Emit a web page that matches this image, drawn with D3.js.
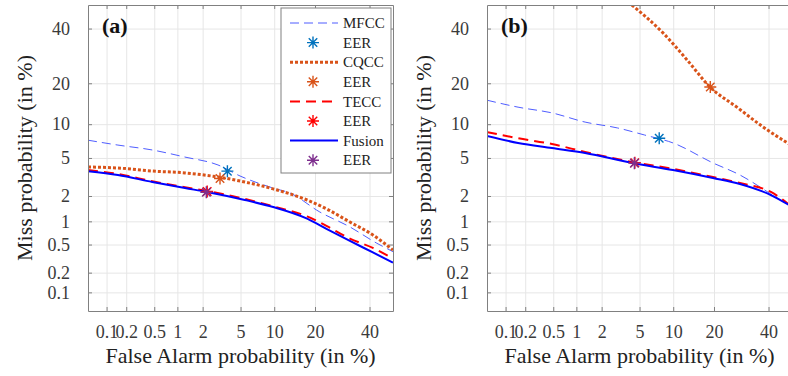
<!DOCTYPE html>
<html>
<head>
<meta charset="utf-8">
<script src="https://cdn.jsdelivr.net/npm/d3@7"></script>
<style>
  body { margin: 0; background: #fff; overflow: hidden; }
  svg text { font-family: "Liberation Serif", "Tinos", "DejaVu Serif", "Times New Roman", Times, serif; }
</style>
</head>
<body>
<script>
// 刻度 (in %)
var tickValues = [0.1, 0.2, 0.5, 1, 2, 5, 10, 20, 40];
var tickLabels = ['0.1', '0.2', '0.5', '1', '2', '5', '10', '20', '40'];
// 坐标轴范围 (in %)
var axisLimits = [0.05, 50];

// 面板 (a)
var aMfccFa = [0.05, 0.15, 0.47, 1.24, 2.95, 4.94, 9.8, 13.3, 21.5, 32.1, 43.1, 50];
var aMfccMiss = [7.3, 6.6, 5.95, 5.1, 4.27, 3.3, 2.45, 2.16, 1.3, 0.85, 0.52, 0.40];
var aCqccFa = [0.05, 0.15, 0.47, 1.24, 2.95, 5.5, 9.8, 17.7, 23.8, 32.1, 41.4, 50];
var aCqccMiss = [4.08, 3.98, 3.71, 3.55, 3.22, 2.85, 2.4, 1.8, 1.41, 0.98, 0.67, 0.42];
var aTeccFa = [0.05, 0.15, 0.47, 1.24, 2.24, 5.5, 9.8, 17.7, 23.8, 32.1, 41.4, 50];
var aTeccMiss = [3.8, 3.46, 2.9, 2.5, 2.28, 1.85, 1.52, 1.15, 0.87, 0.6, 0.45, 0.32];
var aFusionFa = [0.05, 0.15, 0.47, 1.24, 2.24, 5.5, 9.8, 17.7, 23.8, 32.1, 41.4, 50];
var aFusionMiss = [3.7, 3.38, 2.85, 2.45, 2.22, 1.8, 1.49, 1.08, 0.8, 0.56, 0.39, 0.28];
// EER: MFCC, CQCC, TECC, Fusion
var aEer = [3.7, 3.1, 2.25, 2.2];

// 面板 (b)
var bMfccFa = [0.05, 0.156, 0.48, 1.28, 3.0, 5.6, 9.96, 19.7, 28.7, 37.7, 41, 50];
var bMfccMiss = [15.3, 13.6, 12.3, 10.4, 9.3, 8.1, 6.9, 4.47, 3.38, 2.4, 2.1, 1.5];
var bCqccFa = [4.2, 8.2, 12.9, 18.8, 27.6, 37.7, 50];
var bCqccMiss = [50, 38.2, 27.7, 18.9, 13.6, 9.5, 6.5];
var bTeccFa = [0.05, 0.156, 0.48, 1.28, 4.2, 9.96, 19.7, 28.7, 41, 50];
var bTeccMiss = [8.6, 7.6, 6.75, 5.7, 4.57, 3.9, 3.22, 2.78, 2.22, 1.5];
var bFusionFa = [0.05, 0.156, 0.48, 1.28, 4.2, 9.96, 19.7, 28.7, 41, 50];
var bFusionMiss = [7.95, 6.9, 6.2, 5.58, 4.47, 3.8, 3.14, 2.71, 2.05, 1.5];
var bEer = [7.6, 18.9, 4.5, 4.45];

var seriesNames = ['MFCC', 'CQCC', 'TECC', 'Fusion'];

// 样式
var styles = [
  { color: '#4f5dff', width: 1, dash: '9,5', eer: '#0072BD' },
  { color: '#D95319', width: 3, dash: '3,2', eer: '#D95319' },
  { color: '#ff0000', width: 2, dash: '10,6', eer: '#ff0000' },
  { color: '#0000ff', width: 2, dash: null, eer: '#7E2F8E' }
];

var serif = '"Liberation Serif", "Tinos", "DejaVu Serif", "Times New Roman", Times, serif';
var svgWidth = 788, svgHeight = 376;
var plotW = 305, plotH = 306, plotTop = 5;

// 正态分布逆函数 (Acklam)
function probit(p) {
  var a = [-3.969683028665376e+01, 2.209460984245205e+02, -2.759285104469687e+02, 1.383577518672690e+02, -3.066479806614716e+01, 2.506628277459239e+00];
  var b = [-5.447609879822406e+01, 1.615858368580409e+02, -1.556989798598866e+02, 6.680131188771972e+01, -1.328068155288572e+01];
  var c = [-7.784894002430293e-03, -3.223964580411365e-01, -2.400758277161838e+00, -2.549732539343734e+00, 4.374664141464968e+00, 2.938163982698783e+00];
  var d = [7.784695709041462e-03, 3.224671290700398e-01, 2.445134137142996e+00, 3.754408367214310e+00];
  var pl = 0.02425, q, r;
  if (p < pl) {
    q = Math.sqrt(-2 * Math.log(p));
    return (((((c[0] * q + c[1]) * q + c[2]) * q + c[3]) * q + c[4]) * q + c[5]) / ((((d[0] * q + d[1]) * q + d[2]) * q + d[3]) * q + 1);
  }
  if (p <= 1 - pl) {
    q = p - 0.5; r = q * q;
    return (((((a[0] * r + a[1]) * r + a[2]) * r + a[3]) * r + a[4]) * r + a[5]) * q / (((((b[0] * r + b[1]) * r + b[2]) * r + b[3]) * r + b[4]) * r + 1);
  }
  q = Math.sqrt(-2 * Math.log(1 - p));
  return -(((((c[0] * q + c[1]) * q + c[2]) * q + c[3]) * q + c[4]) * q + c[5]) / ((((d[0] * q + d[1]) * q + d[2]) * q + d[3]) * q + 1);
}
function pz(v) { return probit(v / 100); }

// 星号 marker
function asterisk(r) {
  var p = d3.path();
  var k = r * Math.SQRT1_2;
  p.moveTo(-r, 0); p.lineTo(r, 0);
  p.moveTo(0, -r); p.lineTo(0, r);
  p.moveTo(-k, -k); p.lineTo(k, k);
  p.moveTo(-k, k); p.lineTo(k, -k);
  return p.toString();
}

var svg = d3.select('body').append('svg')
  .attr('width', svgWidth)
  .attr('height', svgHeight)
  .attr('font-family', serif);

function drawPanel(opt) {
  var x = d3.scaleLinear().domain(axisLimits.map(pz)).range([0, plotW]);
  var y = d3.scaleLinear().domain(axisLimits.map(pz)).range([plotH, 0]);
  var tv = tickValues.map(pz);
  var fmt = function (d, i) { return tickLabels[i]; };

  var g = svg.append('g').attr('transform', `translate(${opt.left},${plotTop})`);

  // 网格
  g.append('g')
    .attr('transform', `translate(0,${plotH})`)
    .call(d3.axisBottom(x).tickValues(tv).tickSize(-plotH).tickFormat(''))
    .call(s => s.select('.domain').remove())
    .call(s => s.selectAll('line').attr('stroke', '#e6e6e6'));
  g.append('g')
    .call(d3.axisLeft(y).tickValues(tv).tickSize(-plotW).tickFormat(''))
    .call(s => s.select('.domain').remove())
    .call(s => s.selectAll('line').attr('stroke', '#e6e6e6'));

  // 曲线
  var clipId = 'clip-' + opt.label;
  g.append('clipPath').attr('id', clipId)
    .append('rect').attr('width', plotW).attr('height', plotH);
  var line = d3.line()
    .curve(d3.curveMonotoneX)
    .x(d => x(pz(d[0])))
    .y(d => y(pz(d[1])));
  var lines = g.append('g').attr('clip-path', `url(#${clipId})`);
  opt.series.forEach(function (s, i) {
    var st = styles[i];
    lines.append('path')
      .datum(d3.zip(s[0], s[1]))
      .attr('fill', 'none')
      .attr('stroke', st.color)
      .attr('stroke-width', st.width)
      .attr('stroke-dasharray', st.dash)
      .attr('d', line);
  });
  // EER 点
  opt.eer.forEach(function (e, i) {
    lines.append('path')
      .attr('transform', `translate(${x(pz(e))},${y(pz(e))})`)
      .attr('d', asterisk(6))
      .attr('fill', 'none')
      .attr('stroke', styles[i].eer)
      .attr('stroke-width', 1.4);
  });

  // 坐标轴
  var axisColor = '#808080';
  function styleAxis(s) {
    s.attr('font-family', serif).attr('font-size', 18);
    s.select('.domain').attr('stroke', axisColor);
    s.selectAll('.tick line').attr('stroke', axisColor);
    s.selectAll('.tick text').attr('fill', '#3a3a3a');
  }
  g.append('g')
    .attr('transform', `translate(0,${plotH})`)
    .call(d3.axisBottom(x).tickValues(tv).tickFormat(fmt).tickSizeInner(-4).tickSizeOuter(0).tickPadding(14))
    .call(styleAxis);
  g.append('g')
    .call(d3.axisLeft(y).tickValues(tv).tickFormat(fmt).tickSizeInner(-4).tickSizeOuter(0).tickPadding(18))
    .call(styleAxis);
  g.append('g')
    .call(d3.axisTop(x).tickValues(tv).tickFormat('').tickSizeInner(-4).tickSizeOuter(0))
    .call(styleAxis);
  g.append('g')
    .attr('transform', `translate(${plotW},0)`)
    .call(d3.axisRight(y).tickValues(tv).tickFormat('').tickSizeInner(-4).tickSizeOuter(0))
    .call(styleAxis);

  // 轴标题
  g.append('text')
    .attr('x', plotW / 2)
    .attr('y', plotH + 52)
    .attr('text-anchor', 'middle')
    .attr('fill', '#222')
    .attr('font-size', 22)
    .text('False Alarm probability (in %)');
  g.append('text')
    .attr('transform', 'rotate(-90)')
    .attr('x', -plotH / 2)
    .attr('y', -56)
    .attr('text-anchor', 'middle')
    .attr('fill', '#222')
    .attr('font-size', 22)
    .text('Miss probability (in %)');

  // 面板编号
  g.append('text')
    .attr('x', 14)
    .attr('y', 28)
    .attr('fill', '#111')
    .attr('font-size', 22)
    .attr('font-weight', 'bold')
    .text('(' + opt.label + ')');

  return g;
}

var gA = drawPanel({
  left: 88,
  label: 'a',
  series: [[aMfccFa, aMfccMiss], [aCqccFa, aCqccMiss], [aTeccFa, aTeccMiss], [aFusionFa, aFusionMiss]],
  eer: aEer
});
drawPanel({
  left: 487,
  label: 'b',
  series: [[bMfccFa, bMfccMiss], [bCqccFa, bCqccMiss], [bTeccFa, bTeccMiss], [bFusionFa, bFusionMiss]],
  eer: bEer
});

// 图例 (只在 a)
var legend = gA.append('g').attr('transform', 'translate(193,3)');
legend.append('rect')
  .attr('width', 110)
  .attr('height', 165)
  .attr('fill', '#fff')
  .attr('stroke', '#808080');
var rowH = 19.6;
seriesNames.forEach(function (name, i) {
  var st = styles[i];
  var y1 = 15 + rowH * (2 * i);
  var y2 = 15 + rowH * (2 * i + 1);
  legend.append('line')
    .attr('x1', 9).attr('x2', 57)
    .attr('y1', y1).attr('y2', y1)
    .attr('stroke', st.color)
    .attr('stroke-width', st.width)
    .attr('stroke-dasharray', st.dash);
  legend.append('text')
    .attr('x', 62).attr('y', y1).attr('dy', '0.35em')
    .attr('fill', '#222')
    .attr('font-size', 15)
    .text(name);
  legend.append('path')
    .attr('transform', `translate(32,${y2})`)
    .attr('d', asterisk(6))
    .attr('fill', 'none')
    .attr('stroke', st.eer)
    .attr('stroke-width', 1.4);
  legend.append('text')
    .attr('x', 62).attr('y', y2).attr('dy', '0.35em')
    .attr('fill', '#222')
    .attr('font-size', 15)
    .text('EER');
});
</script>
</body>
</html>
